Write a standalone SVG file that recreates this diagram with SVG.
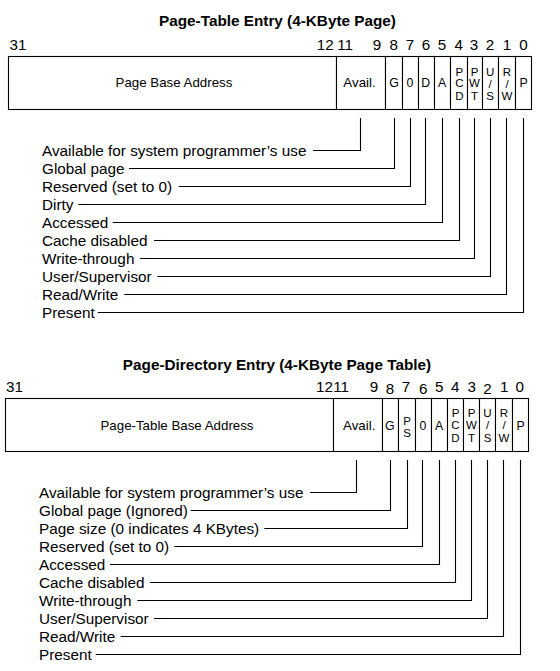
<svg xmlns="http://www.w3.org/2000/svg" width="560" height="671" viewBox="0 0 560 671">
<style>
text{font-family:"Liberation Sans",Arial,sans-serif;fill:#000}
.title{font-size:15.3px;font-weight:bold;text-anchor:middle}
.bit{font-size:15.2px}
.mid{text-anchor:middle}
.end{text-anchor:end}
.cell{font-size:13.3px;text-anchor:middle}
.one{font-size:12.3px;text-anchor:middle}
.stk{font-size:11.5px;text-anchor:middle}
.lbl{font-size:15.3px}
.box{fill:#fff;stroke:#000;stroke-width:1.1}
.ln{fill:none;stroke:#000;stroke-width:1.1}
</style>
<rect width="560" height="671" fill="#fff"/>

<!-- ===== Page-Table Entry ===== -->
<g id="pte-title"><text class="title" x="277.5" y="26">Page-Table Entry (4-KByte Page)</text></g>
<g id="pte-bits" class="bit">
<text x="9.5" y="50">31</text>
<text class="end" x="333.7" y="50">12</text>
<text x="337.3" y="50">11</text>
<text class="mid" x="377" y="50">9</text>
<text class="mid" x="393.7" y="50">8</text>
<text class="mid" x="410" y="50">7</text>
<text class="mid" x="426" y="50">6</text>
<text class="mid" x="442" y="50">5</text>
<text class="mid" x="458.7" y="50">4</text>
<text class="mid" x="474" y="50">3</text>
<text class="mid" x="490" y="50">2</text>
<text class="mid" x="507" y="50">1</text>
<text class="mid" x="523.5" y="50">0</text>
</g>
<g id="pte-base"><rect class="box" x="8.5" y="56.5" width="328" height="53"/><text class="cell" x="174" y="87.3">Page Base Address</text></g>
<g id="pte-avail"><rect class="box" x="336.5" y="56.5" width="49" height="53"/><text class="cell" x="359.5" y="87.3">Avail.</text></g>
<g id="pte-g"><rect class="box" x="385.5" y="56.5" width="17" height="53"/><text class="one" x="394" y="87.3">G</text></g>
<g id="pte-0"><rect class="box" x="402.5" y="56.5" width="16" height="53"/><text class="one" x="410" y="87.3">0</text></g>
<g id="pte-d"><rect class="box" x="418.5" y="56.5" width="16" height="53"/><text class="one" x="425.6" y="87.3">D</text></g>
<g id="pte-a"><rect class="box" x="434.5" y="56.5" width="16" height="53"/><text class="one" x="442" y="87.3">A</text></g>
<g id="pte-pcd"><rect class="box" x="450.5" y="56.5" width="17" height="53"/><text class="stk" x="459.3" y="75.5">P</text><text class="stk" x="459.3" y="87">C</text><text class="stk" x="459.3" y="100">D</text></g>
<g id="pte-pwt"><rect class="box" x="467.5" y="56.5" width="15" height="53"/><text class="stk" x="474.5" y="75.5">P</text><text class="stk" x="474.5" y="87">W</text><text class="stk" x="474.5" y="100">T</text></g>
<g id="pte-us"><rect class="box" x="482.5" y="56.5" width="16" height="53"/><text class="stk" x="490.2" y="75.5">U</text><text class="stk" x="490.2" y="87.5">/</text><text class="stk" x="490.2" y="100">S</text></g>
<g id="pte-rw"><rect class="box" x="498.5" y="56.5" width="17" height="53"/><text class="stk" x="507" y="75.5">R</text><text class="stk" x="507" y="87.5">/</text><text class="stk" x="507" y="100">W</text></g>
<g id="pte-p"><rect class="box" x="515.5" y="56.5" width="16" height="53"/><text class="one" x="523.7" y="87.3">P</text></g>

<g id="pte-labels" class="lbl">
<text x="42" y="155.5">Available for system programmer’s use</text>
<text x="42" y="173.5">Global page</text>
<text x="42" y="191.5">Reserved (set to 0)</text>
<text x="42" y="209.5">Dirty</text>
<text x="42" y="227.5">Accessed</text>
<text x="42" y="245.5">Cache disabled</text>
<text x="42" y="263.5">Write-through</text>
<text x="42" y="281.5">User/Supervisor</text>
<text x="42" y="299.5">Read/Write</text>
<text x="42" y="317.5">Present</text>
</g>

<!-- ===== Page-Directory Entry ===== -->
<g id="pde-title"><text class="title" x="277" y="370">Page-Directory Entry (4-KByte Page Table)</text></g>
<g id="pde-bits" class="bit">
<text x="6" y="392">31</text>
<text class="end" x="333" y="392">12</text>
<text x="333.3" y="392">11</text>
<text class="mid" x="374" y="392">9</text>
<text class="mid" x="390" y="393.5">8</text>
<text class="mid" x="406" y="392">7</text>
<text class="mid" x="423.3" y="393.5">6</text>
<text class="mid" x="439.3" y="392">5</text>
<text class="mid" x="455.3" y="392">4</text>
<text class="mid" x="471.7" y="392">3</text>
<text class="mid" x="487.5" y="393.5">2</text>
<text class="mid" x="504.3" y="392">1</text>
<text class="mid" x="519.7" y="392">0</text>
</g>
<g id="pde-base"><rect class="box" x="5.5" y="398.5" width="328" height="53"/><text class="cell" x="177" y="430">Page-Table Base Address</text></g>
<g id="pde-avail"><rect class="box" x="333.5" y="398.5" width="49" height="53"/><text class="cell" x="359.2" y="430">Avail.</text></g>
<g id="pde-g"><rect class="box" x="382.5" y="398.5" width="16" height="53"/><text class="one" x="389.8" y="430">G</text></g>
<g id="pde-ps"><rect class="box" x="398.5" y="398.5" width="17" height="53"/><text class="stk" x="407" y="425">P</text><text class="stk" x="407" y="437.3">S</text></g>
<g id="pde-0"><rect class="box" x="415.5" y="398.5" width="16" height="53"/><text class="one" x="423" y="430">0</text></g>
<g id="pde-a"><rect class="box" x="431.5" y="398.5" width="16" height="53"/><text class="one" x="439" y="430">A</text></g>
<g id="pde-pcd"><rect class="box" x="447.5" y="398.5" width="16" height="53"/><text class="stk" x="455.5" y="417">P</text><text class="stk" x="455.5" y="428.5">C</text><text class="stk" x="455.5" y="441.7">D</text></g>
<g id="pde-pwt"><rect class="box" x="463.5" y="398.5" width="16" height="53"/><text class="stk" x="471.5" y="417">P</text><text class="stk" x="471.5" y="428.5">W</text><text class="stk" x="471.5" y="441.7">T</text></g>
<g id="pde-us"><rect class="box" x="479.5" y="398.5" width="16" height="53"/><text class="stk" x="487.5" y="417">U</text><text class="stk" x="487.5" y="429">/</text><text class="stk" x="487.5" y="441.7">S</text></g>
<g id="pde-rw"><rect class="box" x="495.5" y="398.5" width="17" height="53"/><text class="stk" x="504" y="417">R</text><text class="stk" x="504" y="429">/</text><text class="stk" x="504" y="441.7">W</text></g>
<g id="pde-p"><rect class="box" x="512.5" y="398.5" width="16" height="53"/><text class="one" x="520.5" y="430">P</text></g>

<g id="pde-labels" class="lbl">
<text x="39" y="497.5">Available for system programmer’s use</text>
<text x="39" y="515.5">Global page (Ignored)</text>
<text x="39" y="533.5">Page size (0 indicates 4 KBytes)</text>
<text x="39" y="551.5">Reserved (set to 0)</text>
<text x="39" y="569.5">Accessed</text>
<text x="39" y="587.5">Cache disabled</text>
<text x="39" y="605.5">Write-through</text>
<text x="39" y="623.5">User/Supervisor</text>
<text x="39" y="641.5">Read/Write</text>
<text x="39" y="659.5">Present</text>
</g>

<g id="connectors" class="ln">
<polyline points="360.5,118 360.5,150.5 313,150.5"/>
<polyline points="394.5,118 394.5,168.5 129,168.5"/>
<polyline points="410.5,118 410.5,186.5 178.7,186.5"/>
<polyline points="425.5,118 425.5,204.5 78.3,204.5"/>
<polyline points="442.5,118 442.5,222.5 112.7,222.5"/>
<polyline points="459.5,118 459.5,240.5 154,240.5"/>
<polyline points="474.5,118 474.5,258.5 140,258.5"/>
<polyline points="490.5,118 490.5,276.5 157.3,276.5"/>
<polyline points="506.5,118 506.5,294.5 124.3,294.5"/>
<polyline points="523.5,118 523.5,312.5 97.7,312.5"/>

<polyline points="356.5,460 356.5,492.5 310,492.5"/>
<polyline points="390.5,460 390.5,510.5 190.7,510.5"/>
<polyline points="407.5,460 407.5,528.5 264.3,528.5"/>
<polyline points="422.5,460 422.5,546.5 174.3,546.5"/>
<polyline points="439.5,460 439.5,564.5 110,564.5"/>
<polyline points="455.5,460 455.5,582.5 150,582.5"/>
<polyline points="471.5,460 471.5,600.5 137.3,600.5"/>
<polyline points="487.5,460 487.5,618.5 154,618.5"/>
<polyline points="503.5,460 503.5,636.5 120.7,636.5"/>
<polyline points="520.5,460 520.5,654.5 95.7,654.5"/>
</g>
</svg>
